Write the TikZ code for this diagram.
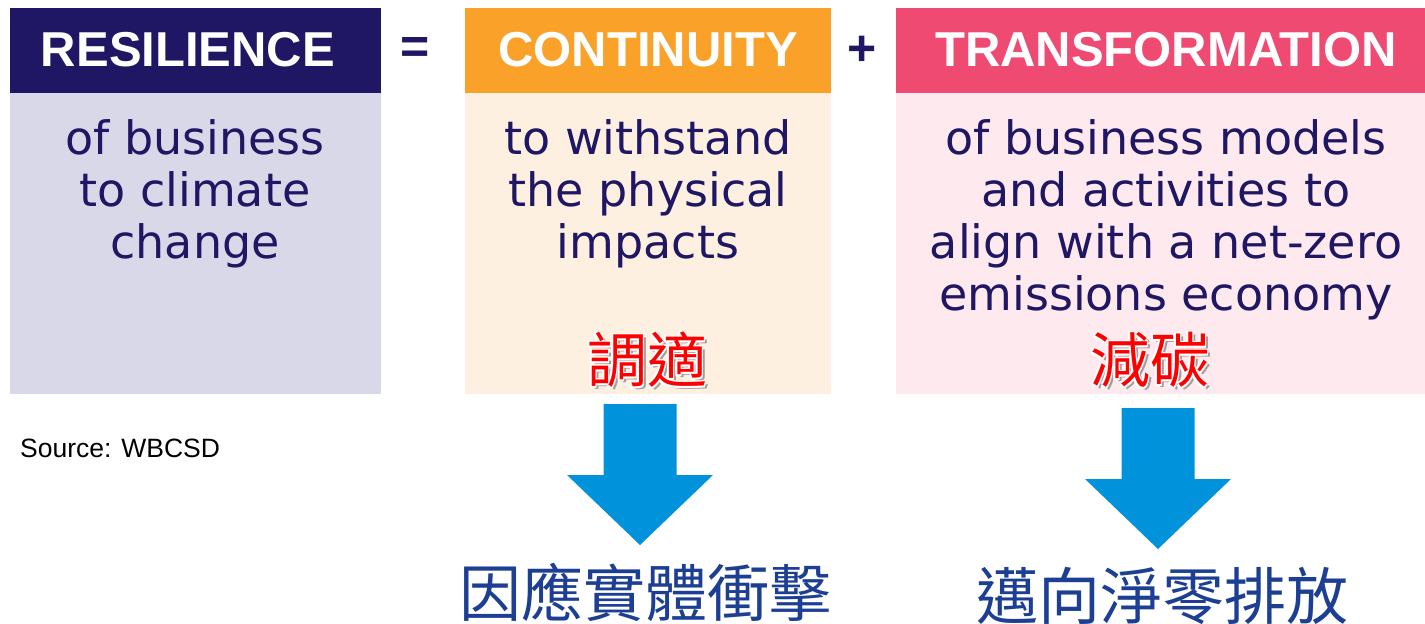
\documentclass[tikz,border=0pt]{standalone}
\usepackage{fontspec}
\setmainfont{DejaVu Sans}
\newfontfamily\headfont{Liberation Sans}
\newfontfamily\cjk{Noto Sans CJK TC}

\definecolor{navy}{RGB}{31,22,100}
\definecolor{lavender}{RGB}{217,216,232}
\definecolor{orangehead}{RGB}{249,161,40}
\definecolor{orangebody}{RGB}{254,240,225}
\definecolor{pinkhead}{RGB}{239,74,114}
\definecolor{pinkbody}{RGB}{254,233,238}
\definecolor{arrowblue}{RGB}{0,146,218}
\definecolor{outblue}{RGB}{28,63,148}
\definecolor{tagred}{RGB}{255,0,0}

\tikzset{
  head/.style={font=\headfont\bfseries\fontsize{49}{52}\selectfont, text=white, inner sep=0},
  body/.style={font=\fontsize{46}{52}\selectfont, text=navy, align=center, inner sep=0, anchor=north},
  sign/.style={font=\headfont\bfseries\fontsize{50}{50}\selectfont, text=navy, inner sep=0},
  redtag/.style={font=\cjk\fontsize{60}{62}\selectfont, inner sep=0},
  cjkout/.style={font=\cjk\fontsize{62}{64}\selectfont, text=outblue, inner sep=0}
}

\begin{document}
\begin{tikzpicture}[x=1pt,y=-1pt]
  \useasboundingbox (0,0) rectangle (1425,624);

  % panels
  \fill[navy] (10,8) rectangle (381,93);
  \fill[lavender] (10,93) rectangle (381,394);
  \fill[orangehead] (465,8) rectangle (831,93);
  \fill[orangebody] (465,93) rectangle (831,394);
  \fill[pinkhead] (896,8) rectangle (1425,93);
  \fill[pinkbody] (896,93) rectangle (1425,394);

  % headings
  \node[head] (resHead) at (188,50) {RESILIENCE};
  \node[head] (conHead) at (648,50) {CONTINUITY};
  \node[head] (traHead) at (1166,50) {TRANSFORMATION};
  \node[sign] (eqSign) at (415.5,50) {=};
  \node[sign] (plusSign) at (862.5,51) {+};

  % texts
  \node[body] (resBody) at (195,119) {of business\\to climate\\change};
  \node[body] (conBody) at (648,119) {to withstand\\the physical\\impacts};
  \node[body] (traBody) at (1166,119) {of business models\\and activities to\\align with a net-zero\\emissions economy};

  \node[font=\headfont\fontsize{26.5}{30}\selectfont, anchor=west, inner sep=0] (src) at (20,448) {Source: WBCSD};

  % red tags
  \node[redtag, text=gray!75] (conTagShade) at (650,363) {調適};
  \node[redtag, text=gray!75] (traTagShade) at (1153,363) {減碳};
  \foreach \a in {45,135,225,315} {
    \node[redtag, text=white, shift={(\a:2)}] (conTagHalo\a) at (647,360) {調適};
    \node[redtag, text=white, shift={(\a:2)}] (traTagHalo\a) at (1150,360) {減碳};
  }
  \node[redtag, text=tagred] (conTag) at (647,360) {調適};
  \node[redtag, text=tagred] (traTag) at (1150,360) {減碳};

  % block arrows
  \coordinate (conArr) at (640,404);
  \coordinate (traArr) at (1158,408);
  \foreach \c in {conArr,traArr}
    \fill[arrowblue] (\c) ++(-36.5,0) -- ++(73,0) -- ++(0,71) -- ++(36.5,0)
      -- ++(-73,70) -- ++(-73,-70) -- ++(36.5,0) -- cycle;

  \node[cjkout] (conOut) at (645,592) {因應實體衝擊};
  \node[cjkout] (traOut) at (1162,596) {邁向淨零排放};
\end{tikzpicture}
\end{document}
